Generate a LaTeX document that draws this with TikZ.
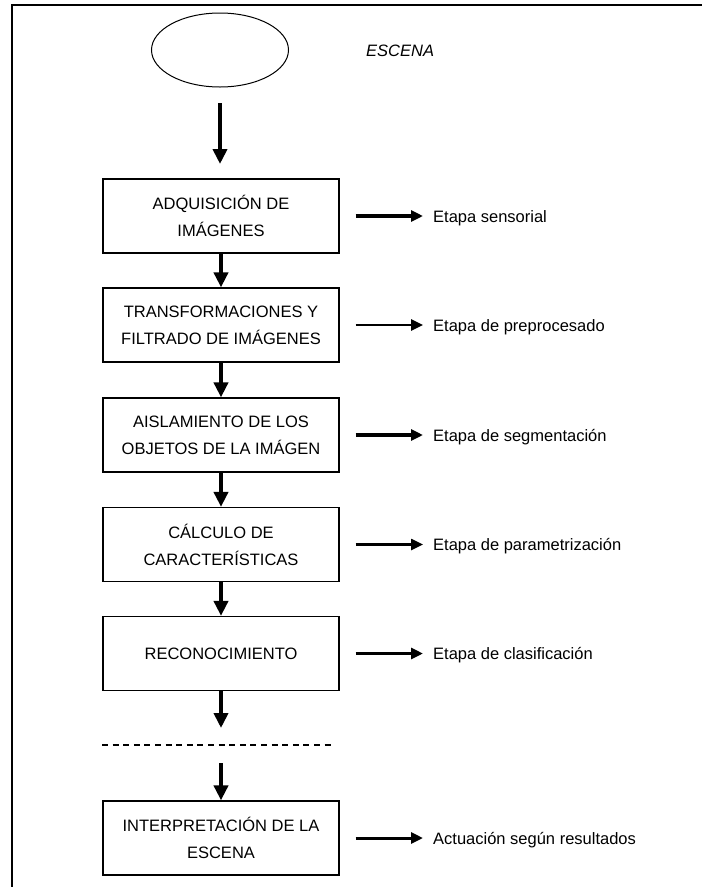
\documentclass[tikz,border=0pt]{standalone}
\usepackage{fontspec}
\setmainfont{Liberation Sans}
\usetikzlibrary{arrows.meta,shapes.geometric}
\begin{document}
\begin{tikzpicture}[x=1pt,y=-1pt,
  stage/.style={draw, line width=1.2pt, minimum width=236pt, minimum height=74pt,
    inner sep=0pt, align=center, font=\fontsize{16.5}{27}\selectfont},
  flow/.style={line width=4pt, -{Triangle[length=15pt,width=14pt]}},
  side/.style={line width=3pt, -{Triangle[length=12pt,width=11pt]}},
  sidethick/.style={side, line width=4pt},
  sidethin/.style={side, line width=2.5pt},
  lbl/.style={anchor=base west, inner sep=0pt, font=\fontsize{16.5}{20}\selectfont},
  frameline/.style={line width=2pt}]
\useasboundingbox (0,0) rectangle (702,887);
\draw[frameline] (12,887) -- (12,5) -- (702,5);

\node[draw, ellipse, line width=1pt, minimum width=137pt, minimum height=74pt, inner sep=0pt] (scene) at (220,50) {};
\node[anchor=base west, inner sep=0pt, font=\fontsize{16.5}{20}\selectfont\itshape] (escena) at (366,56) {ESCENA};

\coordinate (a0s) at (220,103);
\coordinate (a0e) at (220,164);

\node[stage] (b1) at (221,216) {ADQUISICIÓN DE\\IMÁGENES};
\node[stage] (b2) at (221,325) {TRANSFORMACIONES Y\\FILTRADO DE IMÁGENES};
\node[stage] (b3) at (221,435) {AISLAMIENTO DE LOS\\OBJETOS DE LA IMÁGEN};
\node[stage] (b4) at (221,544.5) {CÁLCULO DE\\CARACTERÍSTICAS};
\node[stage] (b5) at (221,653.5) {RECONOCIMIENTO};
\node[stage] (b6) at (221,838) {INTERPRETACIÓN DE LA\\ESCENA};

\coordinate (d1) at (221,728);
\coordinate (dl) at (102,745);
\coordinate (dr) at (335,745);
\coordinate (d2) at (221,763);

\node[lbl] (l1) at (433,222) {Etapa sensorial};
\node[lbl] (l2) at (433,331) {Etapa de preprocesado};
\node[lbl] (l3) at (433,441) {Etapa de segmentación};
\node[lbl] (l4) at (433,550.5) {Etapa de parametrización};
\node[lbl] (l5) at (433,659.5) {Etapa de clasificación};
\node[lbl] (l6) at (433,844) {Actuación según resultados};

\draw[flow] (a0s) -- (a0e);
\draw[flow] (b1.south) -- (b2.north);
\draw[flow] (b2.south) -- (b3.north);
\draw[flow] (b3.south) -- (b4.north);
\draw[flow] (b4.south) -- (b5.north);
\draw[flow] (b5.south) -- (d1);
\draw[line width=2pt, dash pattern=on 6pt off 4.6pt] (dl) -- (dr);
\draw[flow] (d2) -- (b6.north);

\draw[sidethick] ([xshift=16pt]b1.east) -- ([xshift=-10pt]b1.east -| l1.west);
\draw[sidethin] ([xshift=16pt]b2.east) -- ([xshift=-10pt]b2.east -| l2.west);
\draw[sidethick] ([xshift=16pt]b3.east) -- ([xshift=-10pt]b3.east -| l3.west);
\draw[sidethin] ([xshift=16pt]b4.east) -- ([xshift=-10pt]b4.east -| l4.west);
\draw[side] ([xshift=16pt]b5.east) -- ([xshift=-10pt]b5.east -| l5.west);
\draw[side] ([xshift=16pt]b6.east) -- ([xshift=-10pt]b6.east -| l6.west);
\end{tikzpicture}
\end{document}
